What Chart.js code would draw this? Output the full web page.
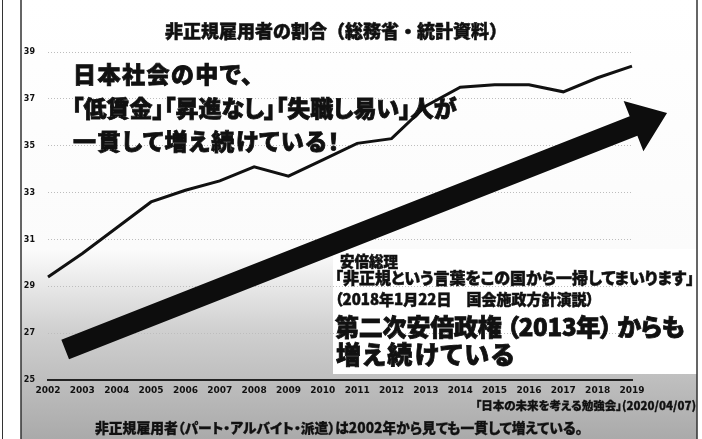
<!DOCTYPE html>
<html>
<head>
<meta charset="utf-8">
<script src="https://cdn.jsdelivr.net/npm/chart.js@4.4.1/dist/chart.umd.min.js"></script>
<style>
  body { margin: 0; background: #fff; }
  #wrap { position: relative; width: 702px; height: 439px; overflow: hidden; }
  #wrap canvas { position: absolute; left: 0; top: 0; }
  .t {
    position: absolute; white-space: nowrap; line-height: 1;
    font-family: "Noto Sans CJK JP", sans-serif; font-weight: 900;
    font-feature-settings: "palt"; color: #111;
    -webkit-text-stroke: 0.5px #111;
  }
  .big { -webkit-text-stroke: 0.8px #111; }
</style>
</head>
<body>
<div id="wrap">
  <canvas id="myChart" width="702" height="439"></canvas>
  <div class="t" style="left:165px; top:21px; font-size:18px; font-feature-settings:normal;">非正規雇用者の割合（総務省・統計資料）</div>
  <div class="t big" style="left:73px; top:62px; font-size:23px; letter-spacing:1.5px;">日本社会の中で、</div>
  <div class="t big" style="left:72px; top:96px; font-size:23px;">「低賃金」「昇進なし」「失職し易い」人が</div>
  <div class="t big" style="left:73px; top:129px; font-size:23px; letter-spacing:1.5px;">一貫して増え続けている！</div>
  <div class="t" style="left:340px; top:254px; font-size:14.5px;">安倍総理</div>
  <div class="t" style="left:335px; top:269px; font-size:16px;">「非正規という言葉をこの国から一掃してまいります」</div>
  <div class="t" style="left:335px; top:291px; font-size:15px;">（2018年1月22日　国会施政方針演説）</div>
  <div class="t big" style="left:335px; top:314px; font-size:24px; letter-spacing:-0.2px;">第二次安倍政権 （2013年） からも</div>
  <div class="t big" style="left:336px; top:341px; font-size:25px; letter-spacing:2px;">増え続けている</div>
  <div class="t" style="right:6px; top:400px; font-size:11.5px; -webkit-text-stroke:0.3px #111;">「日本の未来を考える勉強会」(2020/04/07)</div>
  <div class="t" style="left:95px; top:421px; font-size:13.8px; -webkit-text-stroke:0.3px #111;">非正規雇用者（パート・アルバイト・派遣）は2002年から見ても一貫して増えている。</div>
</div>
<script>
// 非正規雇用者の割合 (%)
var years = ['2002', '2003', '2004', '2005', '2006', '2007', '2008', '2009', '2010',
             '2011', '2012', '2013', '2014', '2015', '2016', '2017', '2018', '2019'];
var ratio = [29.4, 30.4, 31.5, 32.6, 33.1, 33.5, 34.1, 33.7, 34.4,
             35.1, 35.3, 36.7, 37.5, 37.6, 37.6, 37.3, 37.9, 38.4];
var yTicks = [25, 27, 29, 31, 33, 35, 37, 39];

// big arrow, in axis units (category index, %)
var arrowFrom = [0.5, 26.3];
var arrowTo = [18.02, 36.4];

var backdrop = {
    id: 'backdrop',
    beforeDraw: function (chart) {
        var ctx = chart.ctx;
        ctx.save();
        ctx.fillStyle = '#fff';
        ctx.fillRect(0, 0, chart.width, chart.height);

        var g = ctx.createLinearGradient(0, 0, 0, chart.height);
        g.addColorStop(0, '#ffffff');
        g.addColorStop(0.57, '#fbfbfb');
        g.addColorStop(0.75, '#d0d0d0');
        g.addColorStop(0.88, '#bcbcbc');
        g.addColorStop(1, '#aaaaaa');
        ctx.fillStyle = g;
        ctx.fillRect(21, 0, 676, chart.height);

        // white box behind the speech text
        ctx.fillStyle = '#fff';
        ctx.fillRect(333, 249, 364, 125);

        // frame
        ctx.strokeStyle = '#333';
        ctx.lineWidth = 1;
        ctx.beginPath();
        ctx.moveTo(2.5, 0); ctx.lineTo(2.5, chart.height);
        ctx.stroke();
        ctx.lineWidth = 1.5;
        ctx.beginPath();
        ctx.moveTo(21, 0); ctx.lineTo(21, chart.height);
        ctx.moveTo(697, 0); ctx.lineTo(697, chart.height);
        ctx.stroke();
        ctx.restore();
    }
};

var bigArrow = {
    id: 'bigArrow',
    afterDatasetsDraw: function (chart) {
        var x = chart.scales.x, y = chart.scales.y, ctx = chart.ctx;
        var x0 = x.getPixelForValue(arrowFrom[0]), y0 = y.getPixelForValue(arrowFrom[1]);
        var x1 = x.getPixelForValue(arrowTo[0]), y1 = y.getPixelForValue(arrowTo[1]);
        var len = Math.hypot(x1 - x0, y1 - y0);
        var ux = (x1 - x0) / len, uy = (y1 - y0) / len;
        var px = -uy, py = ux;
        var body = 10.5, head = 27, headLen = 36;
        var bx = x1 - ux * headLen, by = y1 - uy * headLen;
        ctx.save();
        ctx.fillStyle = '#0d0d0d';
        ctx.beginPath();
        ctx.moveTo(x0 + px * body, y0 + py * body);
        ctx.lineTo(bx + px * body, by + py * body);
        ctx.lineTo(bx + px * head, by + py * head);
        ctx.lineTo(x1, y1);
        ctx.lineTo(bx - px * head, by - py * head);
        ctx.lineTo(bx - px * body, by - py * body);
        ctx.lineTo(x0 - px * body, y0 - py * body);
        ctx.closePath();
        ctx.fill();
        ctx.restore();
    }
};

var ctx = document.getElementById('myChart').getContext('2d');
var myChart = new Chart(ctx, {
    type: 'line',
    data: {
        labels: years,
        datasets: [{
            data: ratio,
            borderColor: '#111',
            borderWidth: 3,
            pointRadius: 0,
            tension: 0,
            fill: false
        }]
    },
    options: {
        responsive: false,
        animation: false,
        devicePixelRatio: 1,
        layout: { padding: { left: 0, right: 70, top: 52, bottom: 39 } },
        plugins: {
            legend: { display: false },
            tooltip: { enabled: false }
        },
        scales: {
            x: {
                grid: { display: false, drawTicks: false },
                border: { display: true, color: '#222', width: 2 },
                ticks: {
                    autoSkip: false, maxRotation: 0, padding: 5,
                    color: '#111',
                    font: { family: 'DejaVu Sans', weight: 'bold', size: 9 }
                },
                afterFit: function (scale) { scale.height = 20; }
            },
            y: {
                min: 25,
                max: 39,
                afterBuildTicks: function (scale) {
                    scale.ticks = yTicks.map(function (v) { return { value: v }; });
                },
                grid: { color: '#bdbdbd', lineWidth: 1, drawTicks: false },
                border: { display: false, dash: [1, 2] },
                ticks: {
                    padding: 13, color: '#111',
                    font: { family: 'DejaVu Sans', weight: 'bold', size: 8 }
                },
                afterFit: function (scale) { scale.width = 48; }
            }
        }
    },
    plugins: [backdrop, bigArrow]
});
</script>
</body>
</html>
